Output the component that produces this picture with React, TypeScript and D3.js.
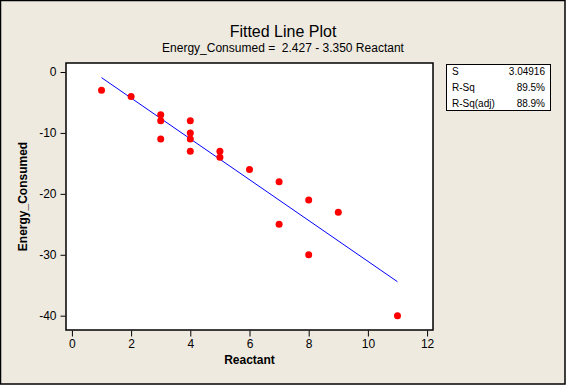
import { useEffect, useRef } from "react";
import * as d3 from "d3";

// observed points (Reactant, Energy_Consumed)
const reactant = [1, 2, 3, 3, 3, 4, 4, 4, 4, 5, 5, 6, 7, 7, 8, 8, 9, 11];
const energy = [-3, -4, -7, -8, -11, -8, -10, -11, -13, -13, -14, -16, -18, -25, -21, -30, -23, -40];

// fitted line from the regression output
const intercept = 2.427;
const slope = -3.35;

const xTicks = [0, 2, 4, 6, 8, 10, 12];
const yTicks = [0, -10, -20, -30, -40];

const statLabels = ["S", "R-Sq", "R-Sq(adj)"];
const statValues = ["3.04916", "89.5%", "88.9%"];

const W = 566;
const H = 385;
const plot = { left: 66, right: 433, top: 63, bottom: 330 };
const font = "'Liberation Sans', Arial, sans-serif";

export default function App() {
    const svgRef = useRef<SVGSVGElement>(null);

    useEffect(() => {
        if (!svgRef.current) return;
        const svg = d3.select(svgRef.current);
        svg.selectAll("*").remove();

        const x = d3.scaleLinear().domain([-0.2, 12.2]).range([plot.left, plot.right]);
        const y = d3.scaleLinear().domain([-42.35, 1.48]).range([plot.bottom, plot.top]);

        // background and outer frame
        svg.append("rect")
            .attr("x", 0.5).attr("y", 0.5)
            .attr("width", W - 1.5).attr("height", H - 1.5)
            .attr("fill", "#eeeae0")
            .attr("stroke", "#000")
            .attr("stroke-width", 1.5);

        // plot area
        svg.append("rect")
            .attr("x", plot.left).attr("y", plot.top)
            .attr("width", plot.right - plot.left).attr("height", plot.bottom - plot.top)
            .attr("fill", "#fff")
            .attr("stroke", "#000")
            .attr("stroke-width", 1.5);

        // axes (plain hyphen for negatives, like the original)
        const fmt = (d: d3.NumberValue) => String(d);
        const xAxis = svg.append("g")
            .attr("transform", `translate(0,${plot.bottom + 0.5})`)
            .call(d3.axisBottom(x).tickValues(xTicks).tickFormat(fmt).tickSize(6).tickPadding(3));
        const yAxis = svg.append("g")
            .attr("transform", `translate(${plot.left - 0.5},0)`)
            .call(d3.axisLeft(y).tickValues(yTicks).tickFormat(fmt).tickSize(5).tickPadding(4));

        [xAxis, yAxis].forEach((g) => {
            g.select(".domain").remove();
            g.selectAll("line").attr("stroke", "#000");
            g.selectAll("text")
                .attr("fill", "#000")
                .style("font-family", font)
                .style("font-size", "12px");
        });

        // fitted line across the data range
        const [xmin, xmax] = d3.extent(reactant) as [number, number];
        svg.append("line")
            .attr("x1", x(xmin)).attr("y1", y(intercept + slope * xmin))
            .attr("x2", x(xmax)).attr("y2", y(intercept + slope * xmax))
            .attr("stroke", "#0000ff")
            .attr("stroke-width", 1);

        // points
        svg.append("g")
            .selectAll("circle")
            .data(reactant.map((r, i) => [r, energy[i]]))
            .enter()
            .append("circle")
            .attr("cx", (d) => x(d[0]))
            .attr("cy", (d) => y(d[1]))
            .attr("r", 3.5)
            .attr("fill", "#ff0000");

        // titles
        svg.append("text")
            .attr("x", W / 2).attr("y", 37)
            .attr("text-anchor", "middle")
            .style("font-family", font)
            .style("font-size", "16px")
            .text("Fitted Line Plot");
        svg.append("text")
            .attr("x", W / 2).attr("y", 52)
            .attr("text-anchor", "middle")
            .style("font-family", font)
            .style("font-size", "12px")
            .style("white-space", "pre")
            .text("Energy_Consumed =  2.427 - 3.350 Reactant");

        svg.append("text")
            .attr("x", (plot.left + plot.right) / 2).attr("y", 364)
            .attr("text-anchor", "middle")
            .style("font-family", font)
            .style("font-size", "12px")
            .style("font-weight", "bold")
            .text("Reactant");
        svg.append("text")
            .attr("transform", `translate(27,${(plot.top + plot.bottom) / 2}) rotate(-90)`)
            .attr("text-anchor", "middle")
            .style("font-family", font)
            .style("font-size", "12px")
            .style("font-weight", "bold")
            .text("Energy_Consumed");

        // stats box
        const box = svg.append("g");
        box.append("rect")
            .attr("x", 446.5).attr("y", 64.5)
            .attr("width", 104).attr("height", 46)
            .attr("fill", "#fff")
            .attr("stroke", "#000");
        statLabels.forEach((lab, i) => {
            box.append("text")
                .attr("x", 452).attr("y", 75 + i * 16)
                .style("font-family", font)
                .style("font-size", "10px")
                .text(lab);
            box.append("text")
                .attr("x", 545).attr("y", 75 + i * 16)
                .attr("text-anchor", "end")
                .style("font-family", font)
                .style("font-size", "10px")
                .text(statValues[i]);
        });
    }, []);

    return (
        <svg
            ref={svgRef}
            width={W}
            height={H}
            style={{ position: "absolute", left: 0, top: 0, display: "block" }}
        />
    );
}
